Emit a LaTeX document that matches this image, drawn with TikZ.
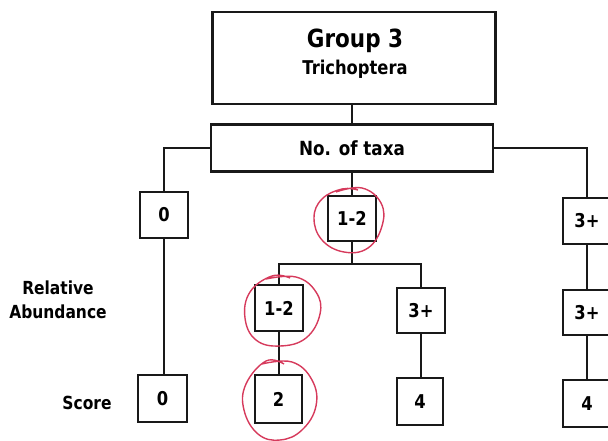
\documentclass[tikz,border=0pt]{standalone}
\usepackage{fontspec}
\setmainfont{DejaVu Sans}[FakeStretch=0.86, UprightFont=* Bold]
\begin{document}
\begin{tikzpicture}[x=1pt,y=-1pt,
  box/.style={draw=black!90, line width=2.8pt, fill=white, inner sep=0pt},
  cell/.style={box, minimum width=48pt, minimum height=46pt, font=\fontsize{19}{21}\selectfont},
  link/.style={draw=black!90, line width=2.4pt},
  lbl/.style={font=\fontsize{18}{24}\selectfont, align=center, inner sep=0pt},
  penring/.style={draw={rgb,255:red,214;green,58;blue,92}, line width=1.4pt}
]
\useasboundingbox (0,0) rectangle (608,441);
\clip (0,0) rectangle (608,441);

% header boxes
\node[box, minimum width=283pt, minimum height=92pt] (top) at (354,58) {};
\node[lbl, align=center] (title) at (355,54)
  {{\fontsize{25}{28}\selectfont Group 3}\\[3pt]{\fontsize{19}{22}\selectfont Trichoptera}};
\node[box, minimum width=282pt, minimum height=47pt, font=\fontsize{19.5}{22}\selectfont] (taxa) at (352,148) {No. of taxa};

% number of taxa
\node[cell] (n0) at (164,215) {0};
\node[cell, minimum height=45pt] (n12) at (352,218.5) {1-2};
\node[cell] (n3) at (587,221) {3+};

% relative abundance
\node[cell] (r12) at (279,308) {1-2};
\node[cell, minimum height=45pt] (r3) at (421,310.5) {3+};
\node[cell, minimum height=45pt] (r3b) at (587,312.5) {3+};

% scores
\node[cell, minimum width=49pt, minimum height=47pt] (s0) at (162.5,398.5) {0};
\node[cell, minimum width=47pt, minimum height=48pt] (s2) at (278.5,399) {2};
\node[cell, minimum width=46pt, minimum height=47pt] (s4) at (420,401.5) {4};
\node[cell, minimum height=47pt] (s4b) at (587,403.5) {4};

% row labels
\node[lbl] (ra) at (58,300) {Relative\\Abundance};
\node[lbl] (score) at (87,403) {Score};

% connectors
\coordinate (fork) at (352,264);
\draw[link] (top.south -| taxa.north) -- (taxa.north);
\draw[link] (taxa.west) -| (n0.north);
\draw[link] (taxa.south) -- (n12.north);
\draw[link] (taxa.east) -| (n3.north);
\draw[link] (n0.south) -- (n0.south |- s0.north);
\draw[link] (n12.south) -- (fork);
\draw[link] (r12.north) |- (fork) -| (r3.north);
\draw[link] (r12.south) -- (r12.south |- s2.north);
\draw[link] (r3.south) -- (r3.south |- s4.north);
\draw[link] (n3.south) -- (r3b.north);
\draw[link] (r3b.south) -- (s4b.north);

% hand-drawn circles
\draw[penring] plot[smooth, tension=0.7] coordinates
  {(336,192) (362,188) (381,203) (382,226) (368,248) (344,252) (322,240) (314,218) (322,199) (342,189) (358,190)};
\draw[penring] plot[smooth, tension=0.7] coordinates
  {(266,279) (296,277) (316,292) (320,314) (306,338) (280,346) (256,340) (245,318) (250,292) (272,276) (290,278)};
\draw[penring] plot[smooth, tension=0.7] coordinates
  {(262,364) (292,362) (312,380) (316,406) (302,430) (280,440) (258,434) (244,410) (246,384) (266,361) (284,364)};
\end{tikzpicture}
\end{document}
